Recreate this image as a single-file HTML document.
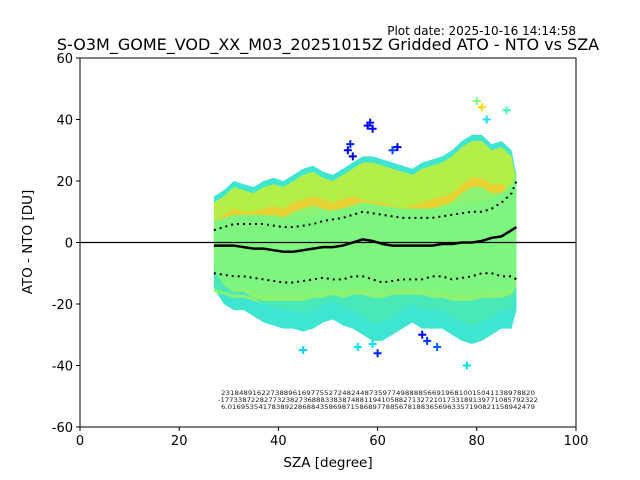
<!DOCTYPE html>
<html><head><meta charset="utf-8"><style>
body{margin:0;background:#fff}
svg{display:block;font-family:"DejaVu Sans","Liberation Sans",sans-serif}
</style></head><body>
<svg id="c" width="640" height="480" xmlns="http://www.w3.org/2000/svg">
<rect width="640" height="480" fill="#fff"/>
<text x="576" y="35" font-size="12" text-anchor="end">Plot date: 2025-10-16 14:14:58</text>
<text x="328" y="50" font-size="16" text-anchor="middle">S-O3M_GOME_VOD_XX_M03_20251015Z Gridded ATO - NTO vs SZA</text>
<g id="plot"></g>
<g id="axes"></g>
<text x="328" y="467" font-size="13.5" text-anchor="middle">SZA [degree]</text>
<text x="32" y="242" font-size="13.5" text-anchor="middle" transform="rotate(-90 32 242)">ATO - NTO [DU]</text>
<g font-size="6" text-anchor="middle" fill="#222">
<text x="378" y="395" textLength="314" lengthAdjust="spacingAndGlyphs">2318489162273889616977552724824487359774988885669196810015041138978820</text>
<text x="378" y="402" textLength="320" lengthAdjust="spacingAndGlyphs">-1773387228277323827368883383874881194105882713272101733189139771085792322</text>
<text x="378" y="409" textLength="314" lengthAdjust="spacingAndGlyphs">6.0169535417838922868843586987158689778856781883656963357190821158942479</text>
</g>
</svg>
<script>
const sza   = [27,29,31,33,35,37,39,41,43,45,47,49,51,53,55,57,59,61,63,65,67,69,71,73,75,77,79,81,83,85,87,88];
const upper = [15,17,20,19,18,20,21,20,22,24,25,23,22,24,26,28,28,27,26,25,24,26,27,28,30,33,35,35,32,33,30,22];
const lower = [-15,-20,-22,-22,-24,-26,-27,-28,-28,-29,-28,-26,-25,-27,-28,-30,-32,-32,-30,-28,-26,-28,-28,-28,-30,-32,-33,-32,-30,-28,-28,-22];
const warm  = [10,12,14,13,13,14,15,14,16,17,18,17,16,17,18,17,16,16,15,14,15,16,17,18,19,22,24,24,22,22,20,14];
const core  = [-16,-17,-18,-18,-19,-20,-20,-20,-20,-20,-19,-19,-18,-19,-18,-18,-19,-19,-18,-18,-18,-18,-19,-19,-20,-20,-20,-19,-19,-19,-18,-15];
const meanV = [-1,-1,-1,-1.5,-2,-2,-2.5,-3,-3,-2.5,-2,-1.5,-1.5,-1,0,1,0.5,-0.5,-1,-1,-1,-1,-1,-0.5,-0.5,0,0,0.5,1.5,2,4,5];
const upDot = [4,5,6,6,6,6,5.5,5,5,5.5,6,7,7.5,8,9,10,9.5,9,8.5,8,8,8,8,8.5,9,9.5,10,10,11,13,16,20];
const loDot = [-10,-10.5,-11,-11,-11.5,-12,-12.5,-13,-13,-12.5,-12,-11.5,-12,-12,-11,-11,-12,-13,-12.5,-12,-12,-12,-11,-11,-12,-11.5,-11,-10,-10,-11,-11,-12];
const outX  = [54,54.5,55,58,58.5,59,63,64,69,70,72,78,80,81,86,82,60,59,45,56];
const outY  = [30,32,28,38,39,37,30,31,-30,-32,-34,-40,46,44,43,40,-36,-33,-35,-34];
const outC  = ['#0000ff','#0022ff','#0000e0','#0000ff','#0010ff','#0000ff','#0040ff','#0000ff','#0000ff','#0030ff','#0060ff','#00e0e0','#7fff7f','#ffd700','#40ffb0','#20e0ff','#0020ff','#00e0ff','#00d0ff','#00e5ff'];
const xTicks = [0,20,40,60,80,100];
const yTicks = [-60,-40,-20,0,20,40,60];

const L=80,R=576,T=58,B=427;
const xs=v=>L+(v-0)/100*(R-L);
const ys=v=>B-(v+60)/120*(B-T);
const NS='http://www.w3.org/2000/svg';
const plot=document.getElementById('plot'), axes=document.getElementById('axes');
function mk(t,a,p){const e=document.createElementNS(NS,t);for(const k in a)e.setAttribute(k,a[k]);p.appendChild(e);return e;}
function band(top,bot,fill,name){
  let d='M'+sza.map((s,i)=>xs(s)+','+ys(top[i])).join('L');
  for(let i=sza.length-1;i>=0;i--)d+='L'+xs(sza[i])+','+ys(bot[i]);
  const p=mk('path',{d:d+'Z',fill:fill},plot);
  
  
}
band(upper,lower,'#3ee6d2','outer-spread-band');
band(upper.map(v=>v-2),warm.map(v=>v-6),'#b4ee48','upper-warm-band');
band(warm.map(v=>v-3),warm.map(v=>v-8),'#e6d232','upper-orange-band');
band(warm.map(v=>v-6),core,'#8cf272','mid-band');
band(upDot.map(v=>v+3),core.map(v=>v+3),'#7ef57e','core-band');
band(core.map(v=>v+1),lower.map(v=>v+6),'#48e8b8','lower-cool-band');
outX.forEach((x,i)=>{
  const cx=xs(x),cy=ys(outY[i]);
  const g=mk('path',{d:`M${cx-4},${cy}H${cx+4}M${cx},${cy-4}V${cy+4}`,stroke:outC[i],'stroke-width':2},plot);
  
  
});
const zl=mk('line',{x1:L,x2:R,y1:ys(0),y2:ys(0),stroke:'#000','stroke-width':1.2},plot);


function line(arr,dash,w,name){
  const p=mk('polyline',{points:sza.map((s,i)=>xs(s)+','+ys(arr[i])).join(' '),fill:'none',stroke:'#000','stroke-width':w},plot);
  if(dash)p.setAttribute('stroke-dasharray',dash);
  
  
}
line(meanV,null,2.5,'mean-line');
line(upDot,'2,4',2,'upper-std-line');
line(loDot,'2,4',2,'lower-std-line');
const fr=mk('rect',{x:L,y:T,width:R-L,height:B-T,fill:'none',stroke:'#000','stroke-width':1},axes);


xTicks.forEach(v=>{
  const x=xs(v);
  const t=mk('line',{x1:x,x2:x,y1:B,y2:B+4,stroke:'#000'},axes);
  
  
  const l=mk('text',{x:x,y:B+18,'font-size':13,'text-anchor':'middle'},axes);l.textContent=v;
  
  
});
yTicks.forEach(v=>{
  const y=ys(v);
  const t=mk('line',{x1:L-4,x2:L,y1:y,y2:y,stroke:'#000'},axes);
  
  
  const l=mk('text',{x:L-7,y:y+5,'font-size':13,'text-anchor':'end'},axes);l.textContent=v;
  
  
});
</script>
</body></html>
